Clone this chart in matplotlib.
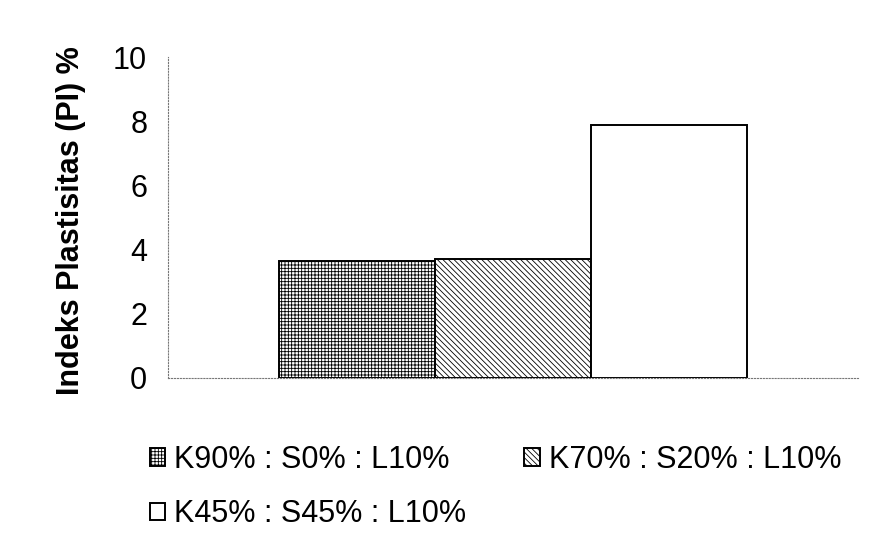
import matplotlib.pyplot as plt
import numpy as np

plt.rcParams['font.family'] = ['Liberation Sans', 'DejaVu Sans']
plt.rcParams['hatch.linewidth'] = 0.6

# Daten
labels = ['K90% : S0% : L10%', 'K70% : S20% : L10%', 'K45% : S45% : L10%']
pi_values = [3.65, 3.7, 7.9]
hatches = ['+++++', '\\\\\\\\\\\\', '']
yticks = [0, 2, 4, 6, 8, 10]

fig = plt.figure(figsize=(8.86, 5.59), dpi=100)
ax = fig.add_axes([0.1896, 0.3238, 0.779, 0.574])

width = 0.226
offsets = (np.arange(len(pi_values)) - 1) * width
bars = []
for off, val, h, lab in zip(offsets, pi_values, hatches, labels):
    b = ax.bar(off, val, width=width, color='white', edgecolor='black',
               hatch=h, linewidth=1.4, label=lab)
    bars.append(b)

ax.set_xlim(-0.5, 0.5)
ax.set_ylim(0, 10)
ax.set_yticks(yticks)
ax.set_xticks([])
ax.tick_params(axis='y', length=0, pad=15, labelsize=22)

for side in ['top', 'right']:
    ax.spines[side].set_visible(False)
for side in ['left', 'bottom']:
    ax.spines[side].set_linestyle(':')
    ax.spines[side].set_color('#777777')
    ax.spines[side].set_linewidth(0.8)

ax.set_ylabel('Indeks Plastisitas (PI) %', fontsize=22, fontweight='bold')
ax.yaxis.set_label_coords(-0.119, 0.49)

# Legende zeilenweise: Reihenfolge fuer spaltenweise Fuellung anpassen
order = [0, 2, 1]
fig.legend([bars[i] for i in order], [labels[i] for i in order],
           loc='upper left', bbox_to_anchor=(0.169, 0.204), ncol=2,
           frameon=False, fontsize=22, handlelength=0.5, handleheight=0.5,
           handletextpad=0.3, columnspacing=1.9, labelspacing=0.8,
           borderaxespad=0, borderpad=0)

fig.savefig('out.png', dpi=100)
